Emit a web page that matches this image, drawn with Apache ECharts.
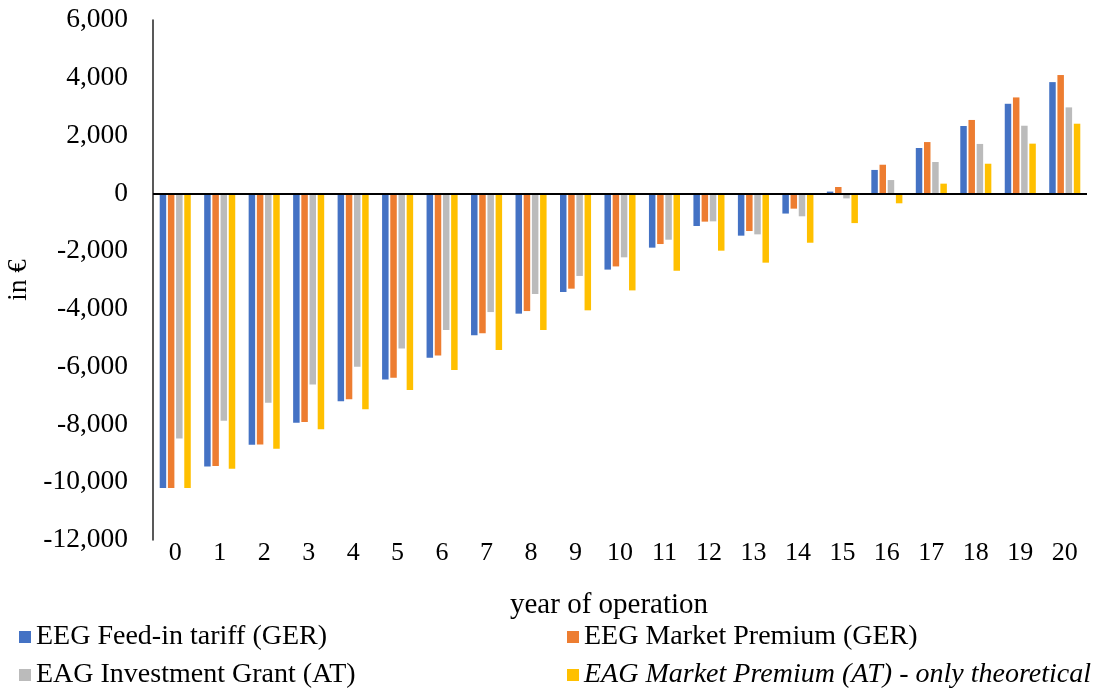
<!DOCTYPE html>
<html>
<head>
<meta charset="utf-8">
<script src="https://cdn.jsdelivr.net/npm/echarts@6/dist/echarts.min.js"></script>
<style>
  html, body { margin: 0; padding: 0; background: #fff; }
  #chart { width: 1098px; height: 690px; }
</style>
</head>
<body>
<div id="chart"></div>
<script>
// Year-by-year cumulative result per support scheme, in euro
const years = ['0','1','2','3','4','5','6','7','8','9','10','11','12','13','14','15','16','17','18','19','20'];

const feedInGER = [-10200, -9460, -8700, -7940, -7200, -6440, -5690, -4915, -4165, -3415, -2640, -1880, -1130, -1465, -700, 60, 810, 1570, 2330, 3100, 3850];
const marketPremiumGER = [-10200, -9440, -8690, -7915, -7130, -6380, -5610, -4845, -4075, -3300, -2530, -1755, -980, -1305, -530, 220, 990, 1775, 2540, 3320, 4095];
const investmentGrantAT = [-8490, -7870, -7245, -6620, -6000, -5375, -4730, -4110, -3485, -2860, -2215, -1605, -970, -1420, -795, -175, 460, 1085, 1710, 2340, 2975];
const marketPremiumAT = [-10200, -9530, -8840, -8170, -7475, -6810, -6115, -5425, -4730, -4050, -3360, -2680, -1985, -2400, -1710, -1030, -345, 335, 1025, 1720, 2410];

const yTicks = { min: -12000, max: 6000, interval: 2000 };

const seriesNames = [
  'EEG Feed-in tariff (GER)',
  'EEG Market Premium (GER)',
  'EAG Investment Grant (AT)',
  'EAG Market Premium (AT) - only theoretical'
];
const colors = ['#4472C4', '#ED7D31', '#BBBBBB', '#FFC000'];
const seriesData = [feedInGER, marketPremiumGER, investmentGrantAT, marketPremiumAT];

const FONT = '"Liberation Serif", "Times New Roman", serif';

const chart = echarts.init(document.getElementById('chart'), null, { renderer: 'canvas' });

const series = seriesData.map((d, i) => ({
  name: seriesNames[i],
  type: 'bar',
  data: d,
  barWidth: 6.5,
  barGap: '26%',
  itemStyle: { color: colors[i] },
  animation: false
}));

// horizontal zero line across the plot
series[0].markLine = {
  silent: true,
  symbol: 'none',
  label: { show: false },
  lineStyle: { color: '#000', width: 2, type: 'solid' },
  data: [{ yAxis: 0 }],
  animation: false
};

// one legend block per entry, laid out in two columns
const legendSlots = [
  { left: 14, top: 618 },
  { left: 562, top: 618 },
  { left: 14, top: 656 },
  { left: 562, top: 656 }
];
const legends = seriesNames.map((name, i) => ({
  left: legendSlots[i].left,
  top: legendSlots[i].top,
  icon: 'rect',
  itemWidth: 12,
  itemHeight: 12,
  itemGap: 5,
  selectedMode: false,
  textStyle: {
    color: '#000', fontFamily: FONT, fontSize: 28,
    fontStyle: i === 3 ? 'italic' : 'normal'
  },
  data: [name]
}));

chart.setOption({
  animation: false,
  color: colors,
  grid: { left: 153, right: 11, top: 20, bottom: 150, containLabel: false, outerBoundsMode: 'none' },
  xAxis: {
    type: 'category',
    data: years,
    axisLine: { show: false, onZero: false },
    axisTick: { show: false },
    axisLabel: { color: '#000', fontFamily: FONT, fontSize: 26, margin: 0, interval: 0 }
  },
  yAxis: {
    type: 'value',
    min: yTicks.min,
    max: yTicks.max,
    interval: yTicks.interval,
    name: 'in €',
    nameLocation: 'middle',
    nameGap: 107,
    nameTextStyle: { color: '#000', fontFamily: FONT, fontSize: 27 },
    axisLine: { show: true, lineStyle: { color: '#222', width: 1.5 } },
    axisTick: { show: false },
    splitLine: { show: false },
    axisLabel: {
      color: '#000', fontFamily: FONT, fontSize: 27.5, margin: 25,
      formatter: v => v.toLocaleString('en-US')
    }
  },
  legend: legends,
  graphic: [
    {
      type: 'text',
      left: 510,
      top: 591,
      style: { text: 'year of operation', fill: '#000', font: '29px ' + FONT }
    }
  ],
  series: series
});
</script>
</body>
</html>
